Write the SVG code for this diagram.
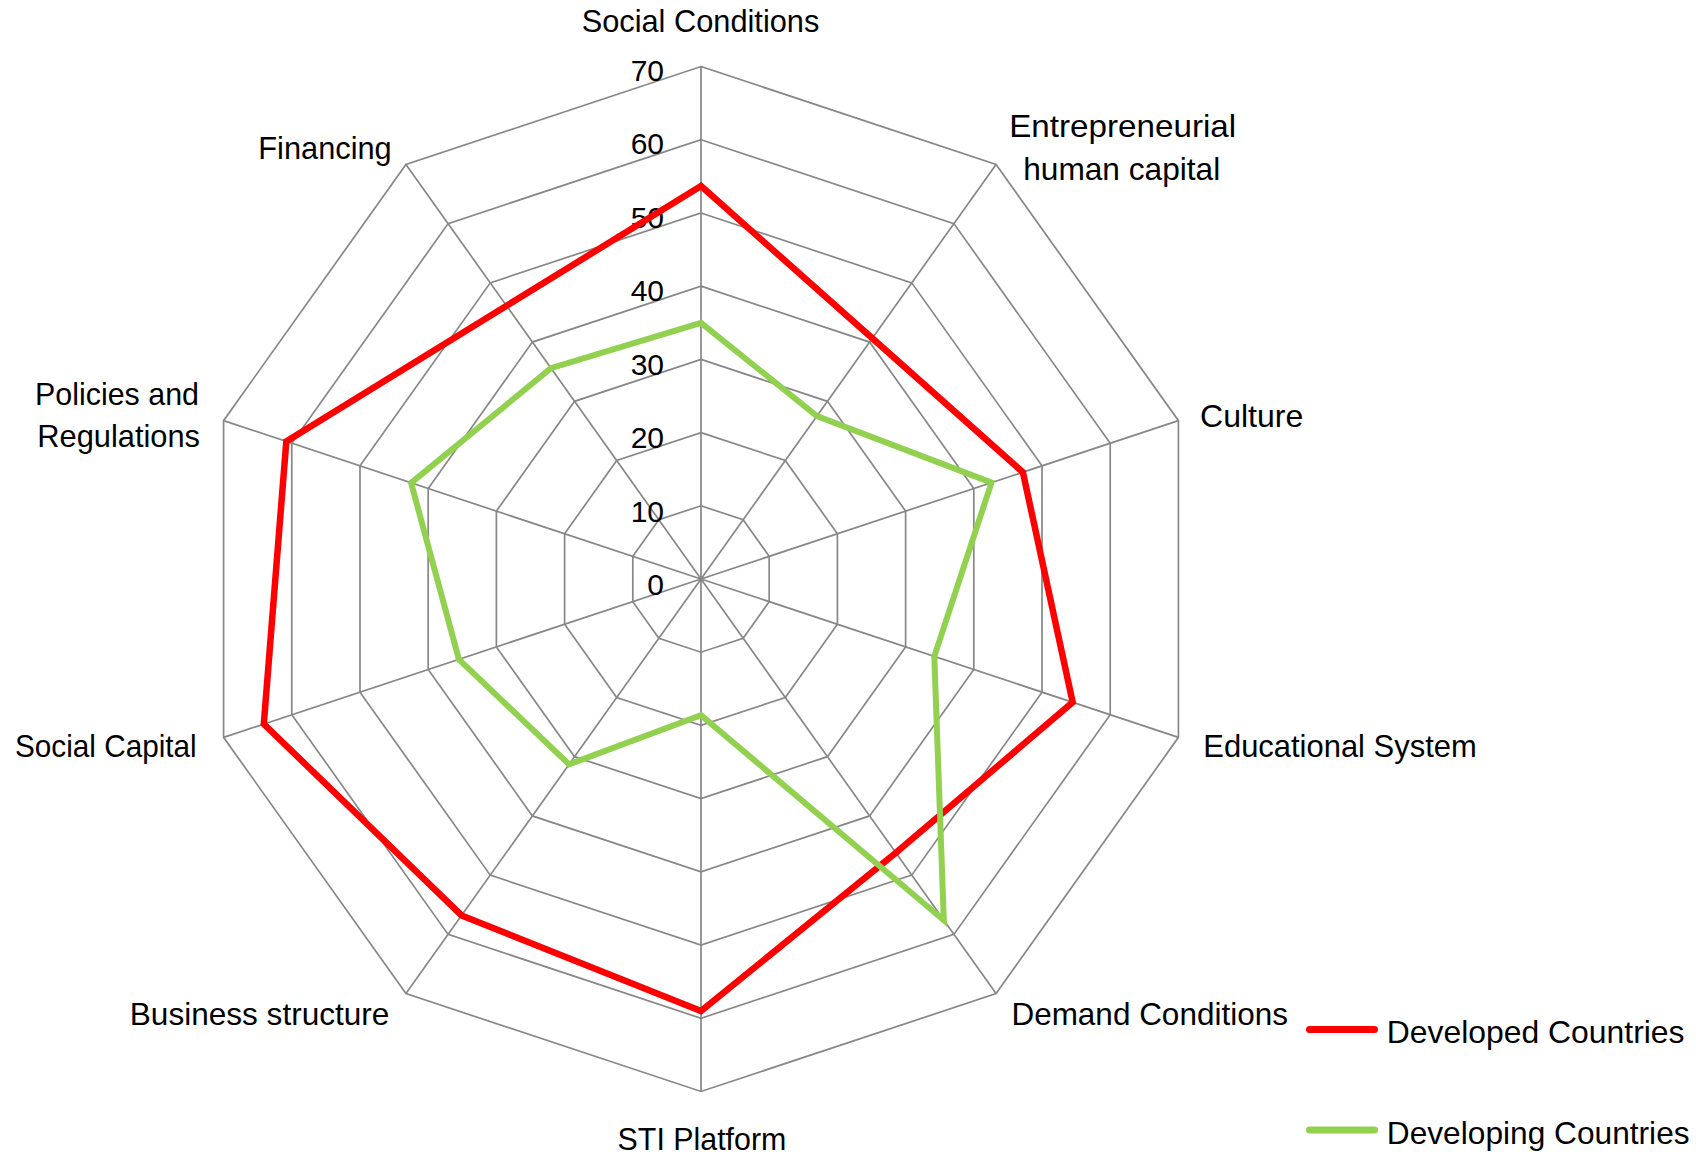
<svg xmlns="http://www.w3.org/2000/svg" width="1696" height="1157" viewBox="0 0 1696 1157">
<style>
.grid{fill:none;stroke:#878787;stroke-width:1.7;stroke-linejoin:miter}
.lbl{font-family:"Liberation Sans",Arial,sans-serif;font-size:32px;fill:#000}
.tick{font-family:"Liberation Sans",Arial,sans-serif;font-size:30px;fill:#000;text-anchor:end}
.red{fill:none;stroke:#FF0000;stroke-width:6.5;stroke-linejoin:miter;stroke-miterlimit:10}
.green{fill:none;stroke:#92D050;stroke-width:6;stroke-linejoin:miter;stroke-miterlimit:10}
</style>
<rect width="1696" height="1157" fill="#fff"/>
<g id="grid">
<polygon class="grid" points="701,505.79 743.15,519.77 769.2,556.38 769.2,601.62 743.15,638.23 701,652.21 658.85,638.23 632.8,601.62 632.8,556.38 658.85,519.77"/>
<polygon class="grid" points="701,432.58 785.3,460.54 837.4,533.75 837.4,624.25 785.3,697.46 701,725.42 616.7,697.46 564.6,624.25 564.6,533.75 616.7,460.54"/>
<polygon class="grid" points="701,359.37 827.45,401.32 905.61,511.13 905.61,646.87 827.45,756.68 701,798.63 574.55,756.68 496.39,646.87 496.39,511.13 574.55,401.32"/>
<polygon class="grid" points="701,286.16 869.6,342.09 973.81,488.51 973.81,669.49 869.6,815.91 701,871.84 532.4,815.91 428.19,669.49 428.19,488.51 532.4,342.09"/>
<polygon class="grid" points="701,212.95 911.76,282.86 1042.01,465.88 1042.01,692.12 911.76,875.14 701,945.05 490.24,875.14 359.99,692.12 359.99,465.88 490.24,282.86"/>
<polygon class="grid" points="701,139.74 953.91,223.63 1110.21,443.26 1110.21,714.74 953.91,934.37 701,1018.26 448.09,934.37 291.79,714.74 291.79,443.26 448.09,223.63"/>
<polygon class="grid" points="701,66.53 996.06,164.4 1178.41,420.64 1178.41,737.36 996.06,993.6 701,1091.47 405.94,993.6 223.59,737.36 223.59,420.64 405.94,164.4"/>
<path class="grid" d="M701,579L701,66.53M701,579L996.06,164.4M701,579L1178.41,420.64M701,579L1178.41,737.36M701,579L996.06,993.6M701,579L701,1091.47M701,579L405.94,993.6M701,579L223.59,737.36M701,579L223.59,420.64M701,579L405.94,164.4"/>
</g>
<g id="ticks">
<text class="tick" x="664" y="595">0</text>
<text class="tick" x="664" y="521.5">10</text>
<text class="tick" x="664" y="448">20</text>
<text class="tick" x="664" y="374.5">30</text>
<text class="tick" x="664" y="301">40</text>
<text class="tick" x="664" y="227.5">50</text>
<text class="tick" x="664" y="154">60</text>
<text class="tick" x="664" y="80.5">70</text>
</g>
<g id="series">
<polygon id="developed" class="red" points="701,186 872.3,338.3 1022.9,472.2 1072.7,702.3 895.9,852.8 701,1011 461.6,915.4 263.8,724 286.3,441.4 506.6,305.8"/>
<polygon id="developing" class="green" points="701,322.8 816.9,416.1 991.5,482.6 934.3,656.4 943.8,920.2 701,715.2 569.1,764.4 458.9,659.3 411.1,482.9 550.9,368.2"/>
</g>
<g id="axis-labels">
<text id="lbl-social-conditions" class="lbl" x="581.7" y="32" textLength="237.6" lengthAdjust="spacingAndGlyphs">Social Conditions</text>
<text id="lbl-entrepreneurial" class="lbl"><tspan x="1009.2" y="137" textLength="227" lengthAdjust="spacingAndGlyphs">Entrepreneurial</tspan><tspan x="1023.2" y="180" textLength="197" lengthAdjust="spacingAndGlyphs">human capital</tspan></text>
<text id="lbl-culture" class="lbl" x="1200" y="427" textLength="103.3" lengthAdjust="spacingAndGlyphs">Culture</text>
<text id="lbl-educational" class="lbl" x="1203.3" y="757" textLength="273.4" lengthAdjust="spacingAndGlyphs">Educational System</text>
<text id="lbl-demand" class="lbl" x="1011.4" y="1025" textLength="276.5" lengthAdjust="spacingAndGlyphs">Demand Conditions</text>
<text id="lbl-sti" class="lbl" x="617.6" y="1150" textLength="168.7" lengthAdjust="spacingAndGlyphs">STI Platform</text>
<text id="lbl-business" class="lbl" x="129.8" y="1025" textLength="259.6" lengthAdjust="spacingAndGlyphs">Business structure</text>
<text id="lbl-social-capital" class="lbl" x="15" y="757" textLength="181.7" lengthAdjust="spacingAndGlyphs">Social Capital</text>
<text id="lbl-policies" class="lbl"><tspan x="35" y="405" textLength="164" lengthAdjust="spacingAndGlyphs">Policies and</tspan><tspan x="37.3" y="447" textLength="162.7" lengthAdjust="spacingAndGlyphs">Regulations</tspan></text>
<text id="lbl-financing" class="lbl" x="258.3" y="159" textLength="133.4" lengthAdjust="spacingAndGlyphs">Financing</text>
</g>
<g id="legend">
<line x1="1309.5" y1="1029.5" x2="1374.5" y2="1029.5" stroke="#FF0000" stroke-width="7" stroke-linecap="round"/>
<text class="lbl" x="1386.8" y="1042.5" textLength="297.7" lengthAdjust="spacingAndGlyphs">Developed Countries</text>
<line x1="1309.5" y1="1130" x2="1374.5" y2="1130" stroke="#92D050" stroke-width="7" stroke-linecap="round"/>
<text class="lbl" x="1386.8" y="1143.5" textLength="302.8" lengthAdjust="spacingAndGlyphs">Developing Countries</text>
</g>
</svg>
